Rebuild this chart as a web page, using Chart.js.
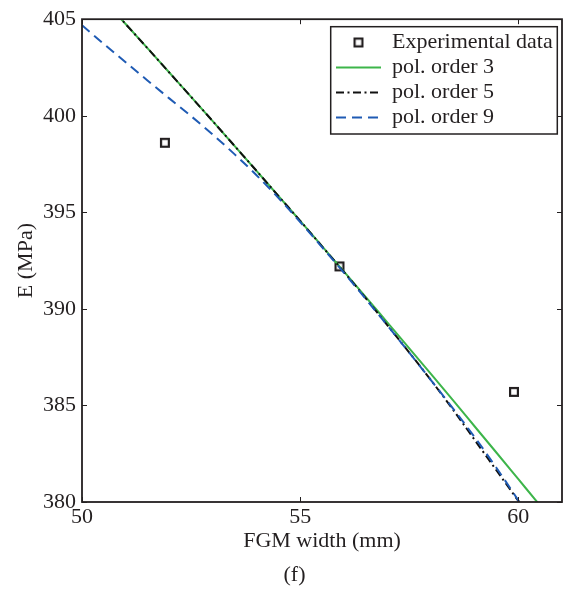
<!DOCTYPE html>
<html><head><meta charset="utf-8">
<script src="https://cdn.jsdelivr.net/npm/chart.js@4/dist/chart.umd.min.js"></script>
<style>html,body{margin:0;padding:0;background:#fff;} canvas{display:block;}</style>
</head><body>
<canvas id="c" width="568" height="593"></canvas>
<script>
const xTickValues = [50, 55, 60];
const yTickValues = [380, 385, 390, 395, 400, 405];
const seriesLabels = ['Experimental data', 'pol. order 3', 'pol. order 5', 'pol. order 9'];

const expX = [51.9, 55.9, 59.9];
const expY = [398.6, 392.2, 385.7];

const order3X = [50.5, 51, 51.5, 52, 52.5, 53, 53.5, 54, 54.5, 55, 55.5, 56, 56.5, 57, 57.5, 58, 58.5, 59, 59.5, 60, 60.5, 61];
const order3Y = [405.99, 404.75, 403.50, 402.24, 400.98, 399.71, 398.43, 397.15, 395.85, 394.56, 393.25, 391.94, 390.62, 389.29, 387.96, 386.62, 385.27, 383.91, 382.55, 381.18, 379.81, 378.42];

const order5X = [50.5, 51, 51.5, 52, 52.5, 53, 53.5, 54, 54.5, 55, 55.5, 56, 56.5, 57, 57.5, 58, 58.5, 59, 59.5, 60, 60.5];
const order5Y = [405.99, 404.75, 403.50, 402.24, 400.98, 399.71, 398.43, 397.15, 395.85, 394.56, 393.24, 391.92, 390.56, 389.15, 387.74, 386.30, 384.79, 383.21, 381.63, 380.05, 378.41];

const order9X = [50, 50.5, 51, 51.5, 52, 52.5, 53, 53.5, 54, 54.5, 55, 55.5, 56, 56.5, 57, 57.5, 58, 58.5, 59, 59.5, 60, 60.5];
const order9Y = [404.69, 403.72, 402.77, 401.83, 400.90, 399.98, 399.02, 398.00, 396.92, 395.75, 394.50, 393.20, 391.88, 390.52, 389.14, 387.73, 386.30, 384.85, 383.35, 381.76, 380.08, 378.30];

const FONT = '"Liberation Serif", "Times New Roman", serif';
const TEXT = '#231f20';

function pts(xs, ys) { return xs.map((x, i) => ({ x: x, y: ys[i] })); }

// hollow square marker
const sq = document.createElement('canvas');
sq.width = 12; sq.height = 12;
const sctx = sq.getContext('2d');
sctx.fillStyle = '#fff'; sctx.fillRect(1, 1, 10, 10);
sctx.strokeStyle = TEXT; sctx.lineWidth = 2.2; sctx.strokeRect(2.1, 2.1, 7.8, 7.8);

const framePlugin = {
  id: 'frame',
  afterLayout(chart) {
    const l = chart.legend;
    const w = l.width;
    l.left = 333; l.top = 28.5; l.right = l.left + w;
  },
  afterDraw(chart) {
    const { ctx, chartArea: a, scales } = chart;
    const x = scales.x, y = scales.y;
    ctx.save();
    ctx.strokeStyle = TEXT;
    ctx.lineWidth = 1.8;
    ctx.strokeRect(a.left, a.top, a.right - a.left, a.bottom - a.top);
    ctx.lineWidth = 1;
    ctx.beginPath();
    x.ticks.forEach(t => {
      const px = Math.round(x.getPixelForValue(t.value)) + 0.5;
      ctx.moveTo(px, a.bottom); ctx.lineTo(px, a.bottom - 5);
      ctx.moveTo(px, a.top); ctx.lineTo(px, a.top + 5);
    });
    y.ticks.forEach(t => {
      const py = Math.round(y.getPixelForValue(t.value)) + 0.5;
      ctx.moveTo(a.left, py); ctx.lineTo(a.left + 5, py);
      ctx.moveTo(a.right, py); ctx.lineTo(a.right - 5, py);
    });
    ctx.stroke();
    const l = chart.legend;
    ctx.lineWidth = 1.5;
    ctx.strokeRect(l.left - 2.3, l.top - 1.8, 226.6, 107.3);
    ctx.restore();
  }
};

new Chart(document.getElementById('c').getContext('2d'), {
  type: 'scatter',
  data: {
    datasets: [
      { label: seriesLabels[0], data: pts(expX, expY), showLine: false, pointStyle: sq, pointRadius: 5, pointHoverRadius: 5,
        borderColor: TEXT, backgroundColor: '#fff', order: 4 },
      { label: seriesLabels[1], data: pts(order3X, order3Y), showLine: true, borderColor: '#3db54a', backgroundColor: '#3db54a',
        borderWidth: 2, pointRadius: 0, pointHoverRadius: 0, pointStyle: 'line', cubicInterpolationMode: 'monotone', order: 3 },
      { label: seriesLabels[2], data: pts(order5X, order5Y), showLine: true, borderColor: '#111111', backgroundColor: '#111111',
        borderWidth: 2, borderDash: [8, 3.5, 2, 3.5], pointRadius: 0, pointHoverRadius: 0, pointStyle: 'line', cubicInterpolationMode: 'monotone', order: 2 },
      { label: seriesLabels[3], data: pts(order9X, order9Y), showLine: true, borderColor: '#1f5bb4', backgroundColor: '#1f5bb4',
        borderWidth: 2, borderDash: [10, 6], pointRadius: 0, pointHoverRadius: 0, pointStyle: 'line', cubicInterpolationMode: 'monotone', order: 1 }
    ]
  },
  options: {
    responsive: false,
    devicePixelRatio: 1,
    animation: false,
    layout: { padding: { left: 24, right: 3, top: 19, bottom: 0 } },
    scales: {
      x: {
        type: 'linear', min: 50, max: 61,
        afterBuildTicks: s => { s.ticks = xTickValues.map(v => ({ value: v })); },
        afterFit: s => { s.height = 59.6; },
        grid: { display: false, drawTicks: false }, border: { display: false },
        ticks: { font: { family: FONT, size: 22 }, color: TEXT, padding: 2.3, maxRotation: 0, autoSkip: false },
        title: { display: true, text: 'FGM width (mm)', font: { family: FONT, size: 22 }, color: TEXT, padding: { top: 0, bottom: 7.4 } }
      },
      y: {
        type: 'linear', min: 380, max: 405,
        afterBuildTicks: s => { s.ticks = yTickValues.map(v => ({ value: v })); },
        afterFit: s => { s.width = 58; },
        grid: { display: false, drawTicks: false }, border: { display: false },
        ticks: { font: { family: FONT, size: 22 }, color: TEXT, padding: 6, autoSkip: false },
        title: { display: true, text: 'E (MPa)', font: { family: FONT, size: 22 }, color: TEXT, padding: { top: -11, bottom: 0 } }
      }
    },
    plugins: {
      legend: {
        position: 'chartArea', align: 'start',
        labels: {
          usePointStyle: true, pointStyleWidth: 45, padding: 3,
          font: { family: FONT, size: 22, lineHeight: 1 }, color: TEXT,
          generateLabels(chart) {
            const items = Chart.defaults.plugins.legend.labels.generateLabels(chart);
            items.forEach(it => {
              const ds = chart.data.datasets[it.datasetIndex];
              it.lineDash = ds.borderDash || [];
              it.lineWidth = ds.showLine ? ds.borderWidth : 0;
              it.strokeStyle = ds.borderColor;
              it.fontColor = TEXT;
            });
            items.sort((a, b) => a.datasetIndex - b.datasetIndex);
            return items;
          }
        }
      },
      title: { display: true, text: '(f)', position: 'bottom', font: { family: FONT, size: 22, weight: 'normal' }, color: TEXT, padding: { top: 0, bottom: 5 } },
      tooltip: { enabled: false }
    }
  },
  plugins: [framePlugin]
});
</script>
</body></html>
